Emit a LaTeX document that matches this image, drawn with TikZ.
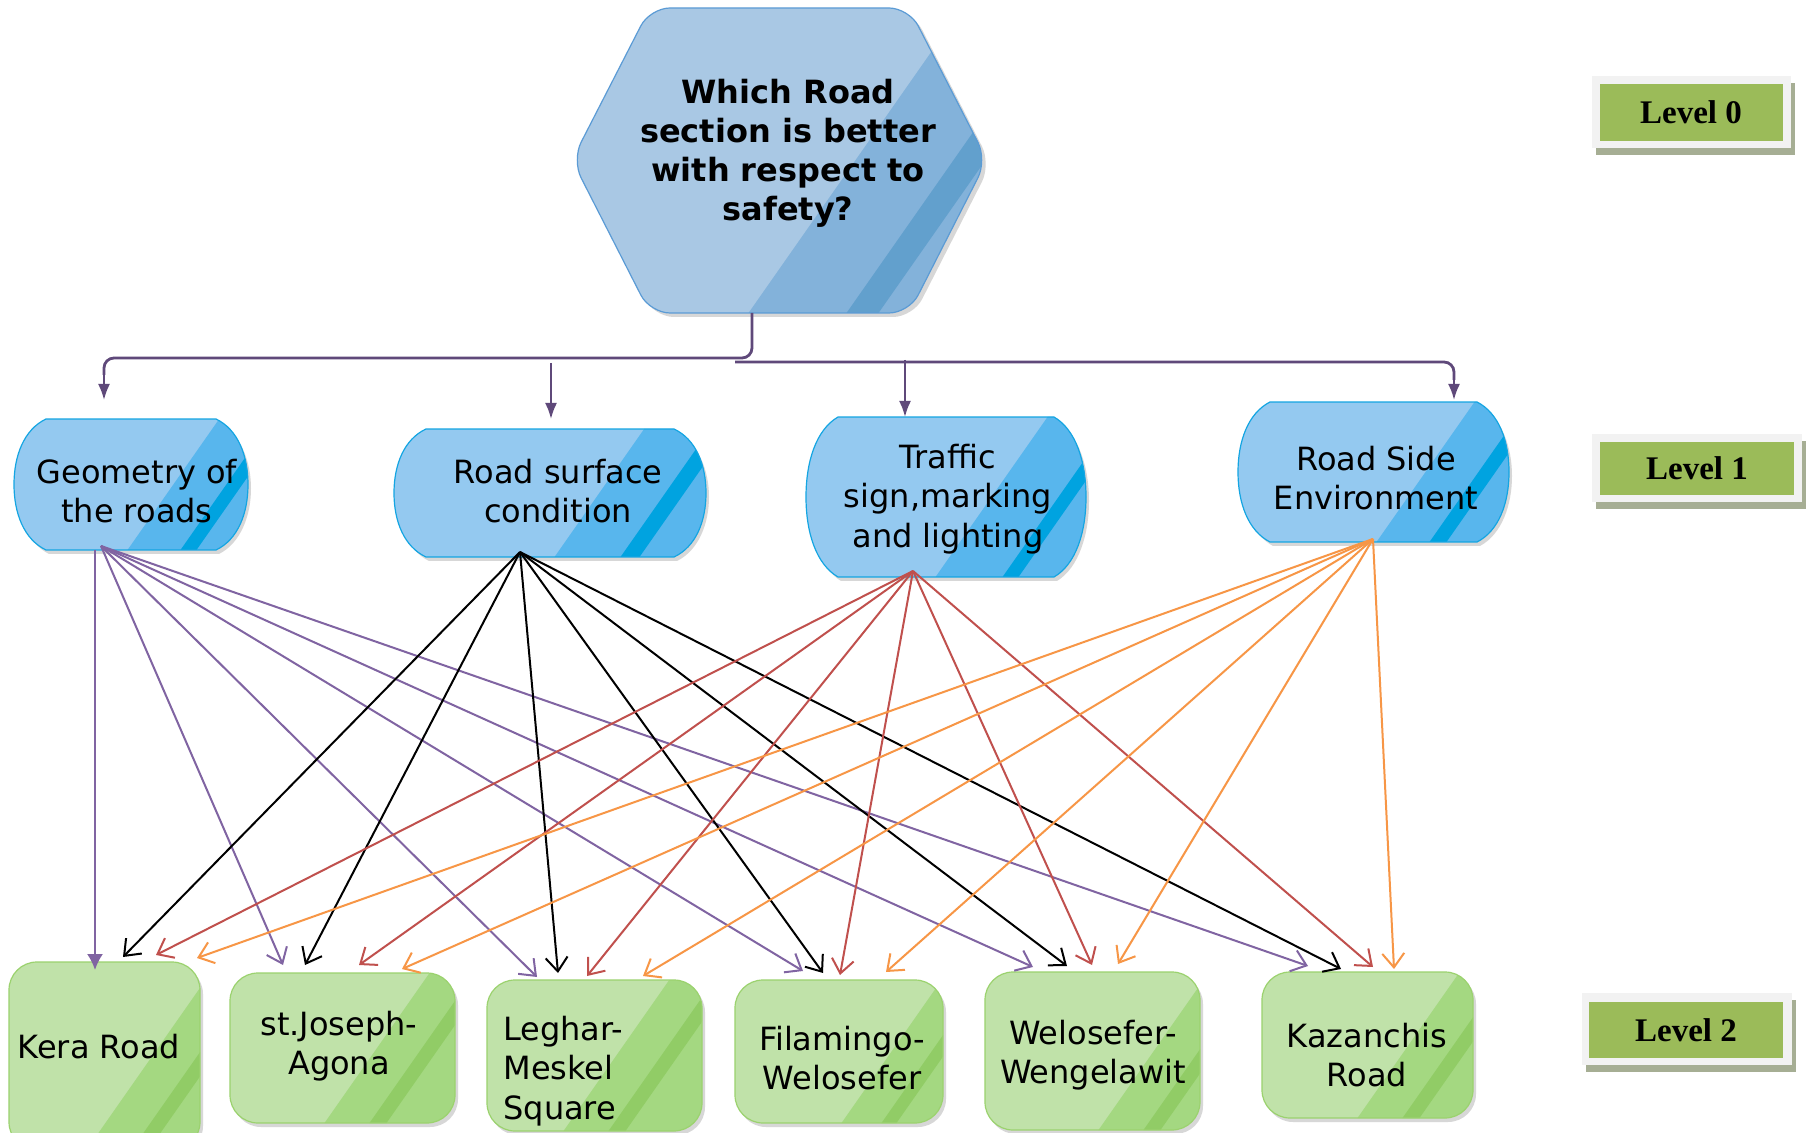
\documentclass[tikz,border=0pt]{standalone}
\usepackage{fontspec}
\newfontfamily\verd{DejaVu Sans}
\newfontfamily\lvlfont{Liberation Serif}
\usetikzlibrary{arrows.meta}
\definecolor{hexLight}{RGB}{169,200,228}
\definecolor{hexDark}{RGB}{131,178,218}
\definecolor{hexStripe}{RGB}{98,160,205}
\definecolor{hexBorder}{RGB}{91,155,213}
\definecolor{blueLight}{RGB}{148,201,240}
\definecolor{blueDark}{RGB}{88,182,237}
\definecolor{blueStripe}{RGB}{0,163,224}
\definecolor{blueBorder}{RGB}{20,165,226}
\definecolor{greenLight}{RGB}{192,226,169}
\definecolor{greenDark}{RGB}{164,216,129}
\definecolor{greenStripe}{RGB}{145,204,102}
\definecolor{greenBorder}{RGB}{155,210,110}
\definecolor{lvlFrame}{RGB}{242,242,242}
\definecolor{lvlShadow}{RGB}{166,174,148}
\definecolor{lvlGreen}{RGB}{155,187,89}
\definecolor{treeLine}{RGB}{95,73,122}
\definecolor{cPurple}{RGB}{128,100,162}
\definecolor{cRed}{RGB}{192,80,77}
\definecolor{cOrange}{RGB}{247,150,70}
\definecolor{shadowC}{RGB}{215,215,215}

\newcommand\barrelpath[4]{({#1+32},#2) -- ({#3-32},#2) .. controls ({#3-10},{#2+0.08*(#4-#2)}) and (#3,{#2+0.28*(#4-#2)}) .. (#3,{(#2+#4)/2}) .. controls (#3,{#4-0.28*(#4-#2)}) and ({#3-10},{#4-0.08*(#4-#2)}) .. ({#3-32},#4) -- ({#1+32},#4) .. controls ({#1+10},{#4-0.08*(#4-#2)}) and (#1,{#4-0.28*(#4-#2)}) .. (#1,{(#2+#4)/2}) .. controls (#1,{#2+0.28*(#4-#2)}) and ({#1+10},{#2+0.08*(#4-#2)}) .. ({#1+32},#2) -- cycle}

% y1 y2 xb s1 s2 dark stripe
\newcommand\glossfill[7]{%
  \fill[#6] (#3,{#2+5}) -- ({#3+0.7*(#2-#1+10)},{#1-5}) -- (1900,{#1-5}) -- (1900,{#2+5}) -- cycle;
  \fill[#7] ({#3+#4},{#2+5}) -- ({#3+#4+0.7*(#2-#1+10)},{#1-5}) -- ({#3+#5+0.7*(#2-#1+10)},{#1-5}) -- ({#3+#5},{#2+5}) -- cycle;
}

% x1 y1 x2 y2 xb s1 s2
\newcommand\bluebarrel[7]{%
  \fill[shadowC] \barrelpath{#1+3}{#2+4}{#3+3}{#4+4};
  \begin{scope}
    \clip \barrelpath{#1}{#2}{#3}{#4};
    \fill[blueLight] (#1,#2) rectangle (#3,#4);
    \glossfill{#2}{#4}{#5}{#6}{#7}{blueDark}{blueStripe}
  \end{scope}
  \draw[blueBorder, line width=0.6pt] \barrelpath{#1}{#2}{#3}{#4};
}

\newcommand\greenbox[7]{%
  \fill[shadowC, rounded corners=14pt] ({#1+3},{#2+4}) rectangle ({#3+3},{#4+4});
  \begin{scope}
    \clip[rounded corners=14pt] (#1,#2) rectangle (#3,#4);
    \fill[greenLight] (#1,#2) rectangle (#3,#4);
    \glossfill{#2}{#4}{#5}{#6}{#7}{greenDark}{greenStripe}
  \end{scope}
  \draw[greenBorder, line width=0.6pt, rounded corners=14pt] (#1,#2) rectangle (#3,#4);
}

% frame x1 y1 x2 y2, inner x1 y1 x2 y2
\newcommand\lvlbox[8]{%
  \fill[lvlShadow] ({#1+4},{#2+7}) rectangle ({#3+4},{#4+7});
  \fill[lvlFrame] (#1,#2) rectangle (#3,#4);
  \fill[lvlGreen] (#5,#6) rectangle (#7,#8);
}

\tikzset{
  lbl/.style={font=\verd\fontsize{16}{19.6}\selectfont, align=center, inner sep=0pt, text=black},
  lvl/.style={font=\lvlfont\bfseries\fontsize{16.5}{18}\selectfont, inner sep=0pt, text=black},
  tree/.style={draw=treeLine, line width=1.4pt},
  treearrow/.style={draw=treeLine, line width=1.1pt, -{Latex[length=8pt,width=6pt]}},
  conn/.style={line width=1pt, -{Straight Barb[length=7pt,width=11pt]}},
}

\begin{document}
\begin{tikzpicture}[x=0.5pt, y=-0.5pt]
\useasboundingbox (0,0) rectangle (1806,1133);
\clip (0,0) rectangle (1806,1133);
\fill[white] (0,0) rectangle (1806,1133);

% ---------- Level 0 hexagon ----------
\fill[shadowC, rounded corners=10pt] (654,12) -- (913,12) -- (991,164) -- (913,317) -- (654,317) -- (576,164) -- cycle;
\begin{scope}
  \clip[rounded corners=10pt] (650,8) -- (909,8) -- (987,160) -- (909,313) -- (650,313) -- (572,160) -- cycle;
  \fill[hexLight] (560,0) rectangle (1000,320);
  \glossfill{8}{313}{745}{98}{130}{hexDark}{hexStripe}
\end{scope}
\draw[hexBorder, line width=0.6pt, rounded corners=10pt] (650,8) -- (909,8) -- (987,160) -- (909,313) -- (650,313) -- (572,160) -- cycle;
\node[lbl, font=\verd\bfseries\fontsize{16}{19.5}\selectfont] (q) at (788,153) {Which Road\\section is better\\with respect to\\safety?};

% ---------- Level 1 ----------
\bluebarrel{14}{419}{248}{550}{124}{53}{69}
\bluebarrel{394}{429}{706}{557}{551}{66}{85}
\bluebarrel{806}{417}{1086}{577}{932}{67}{83}
\bluebarrel{1238}{402}{1509}{542}{1373}{53}{70}
\node[lbl] (geo) at (137,491) {Geometry of\\the roads};
\node[lbl] (surf) at (558,491) {Road surface\\condition};
\node[lbl] (sign) at (948,499) {Traffic\\sign,marking\\and lighting};
\node[lbl] (env) at (1376,478) {Road Side\\Environment};

% ---------- Level 2 ----------
\greenbox{9}{962}{200}{1150}{83}{45}{62}
\greenbox{230}{973}{455}{1123}{321}{45}{62}
\greenbox{487}{980}{702}{1131}{560}{45}{62}
\greenbox{735}{980}{943}{1123}{838}{40}{55}
\greenbox{985}{972}{1200}{1130}{1095}{45}{62}
\greenbox{1262}{972}{1473}{1118}{1354}{45}{62}
\node[lbl] (kera) at (99,1047) {Kera Road};
\node[lbl] (joseph) at (339,1046) {st.Joseph-\\Agona};
\node[lbl, align=left, anchor=west] (leghar) at (503,1071) {Leghar-\\Meskel\\Square};
\node[lbl] (flam) at (842,1058) {Filamingo-\\Welosefer};
\node[lbl] (welo) at (1093,1055) {Welosefer-\\Wengelawit};
\node[lbl] (kaz) at (1367,1055) {Kazanchis\\Road};

% ---------- Level labels ----------
\lvlbox{1592}{76}{1791}{148}{1600}{84}{1783}{141}
\node[lvl] (lv0) at (1691,112.5) {Level 0};
\lvlbox{1592}{434}{1802}{502}{1600}{442}{1794}{495}
\node[lvl] (lv1) at (1697,468.5) {Level 1};
\lvlbox{1582}{993}{1792}{1065}{1589}{1002}{1783}{1058}
\node[lvl] (lv2) at (1686,1030) {Level 2};

% ---------- tree connectors ----------
\coordinate (q-out) at (752,313);
\coordinate (split) at (735,362);
\coordinate (geo-in) at (104,400);
\coordinate (surf-in) at (551,419);
\coordinate (sign-in) at (905,417);
\coordinate (env-in) at (1454,400);
\draw[tree, rounded corners=5pt] (q-out) -- (752,358) -- (104,358) -- (104,375);
\draw[treearrow] (104,370) -- (geo-in);
\draw[tree, rounded corners=5pt] (split) -- (1454,362) -- (1454,380);
\draw[treearrow] (1454,375) -- (env-in);
\draw[treearrow] (551,363) -- (surf-in);
\draw[treearrow] (905,360) -- (sign-in);

% ---------- level 1 -> level 2 connectors ----------
\coordinate (geo-out) at (101,546);
\coordinate (geo-out2) at (95,550);
\coordinate (surf-out) at (520,552);
\coordinate (sign-out) at (913,571);
\coordinate (env-out) at (1373,539);

\coordinate (kera-p) at (95,970);   \coordinate (kera-b) at (123,957);   \coordinate (kera-r) at (156,955);   \coordinate (kera-o) at (197,958);
\coordinate (joseph-p) at (283,965); \coordinate (joseph-b) at (305,965); \coordinate (joseph-r) at (359,965); \coordinate (joseph-o) at (402,969);
\coordinate (leghar-p) at (537,977); \coordinate (leghar-b) at (558,973); \coordinate (leghar-r) at (587,976); \coordinate (leghar-o) at (643,976);
\coordinate (flam-p) at (803,971);   \coordinate (flam-b) at (823,973);   \coordinate (flam-r) at (840,975);   \coordinate (flam-o) at (886,972);
\coordinate (welo-p) at (1033,967);  \coordinate (welo-b) at (1067,966);  \coordinate (welo-r) at (1092,965);  \coordinate (welo-o) at (1118,964);
\coordinate (kaz-p) at (1308,966);   \coordinate (kaz-b) at (1341,969);   \coordinate (kaz-r) at (1373,967);   \coordinate (kaz-o) at (1394,969);

\draw[line width=1pt, cPurple, -{Latex[length=8pt,width=8pt]}] (geo-out2) -- (kera-p);
\foreach \t in {joseph,leghar,flam,welo,kaz} \draw[conn, cPurple] (geo-out) -- (\t-p);
\foreach \t in {kera,joseph,leghar,flam,welo,kaz} \draw[conn, black] (surf-out) -- (\t-b);
\foreach \t in {kera,joseph,leghar,flam,welo,kaz} \draw[conn, cRed] (sign-out) -- (\t-r);
\foreach \t in {kera,joseph,leghar,flam,welo,kaz} \draw[conn, cOrange] (env-out) -- (\t-o);
\end{tikzpicture}
\end{document}
